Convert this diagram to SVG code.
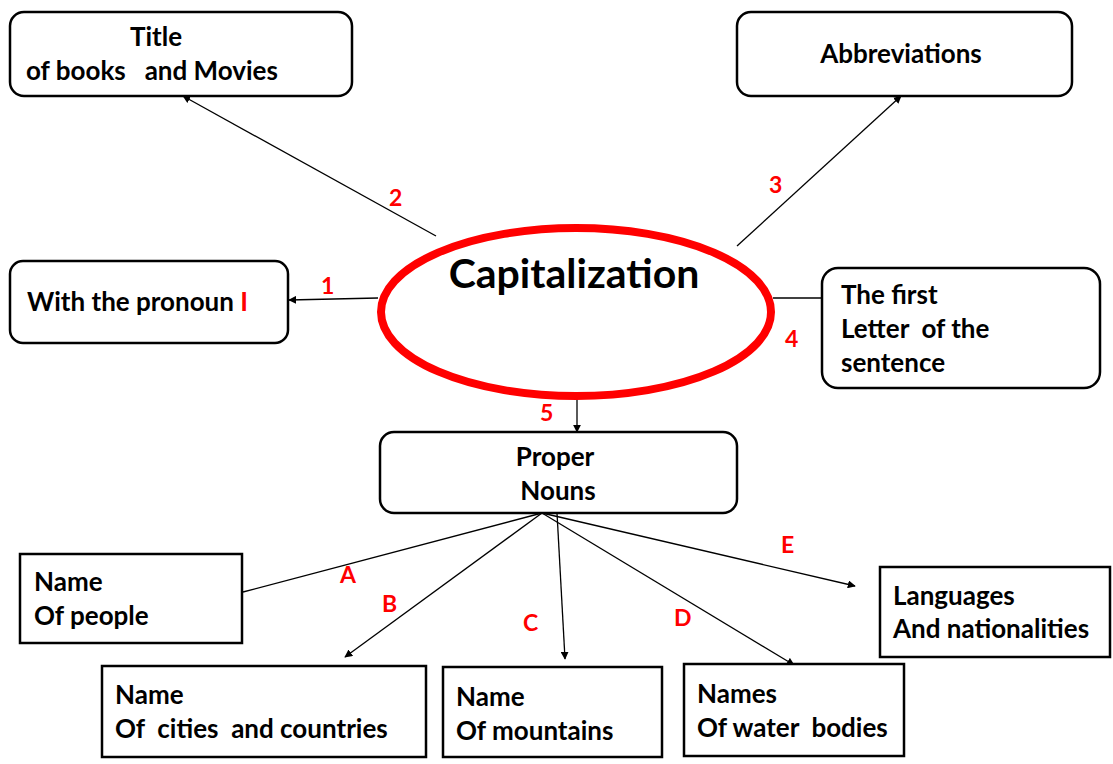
<svg xmlns="http://www.w3.org/2000/svg" width="1113" height="764" viewBox="0 0 1113 764">
  <style>
    .box { fill: #fff; stroke: #000; stroke-width: 2.5; }
    .t { font-family: Lato, "Open Sans", sans-serif; font-weight: bold; font-size: 26px; fill: #000; }
    .lbl { font-family: Lato, "Open Sans", sans-serif; font-weight: bold; font-size: 23px; fill: #ff0000; }
    .con { stroke: #000; stroke-width: 1.3; fill: none; }
  </style>
  <defs>
    <marker id="arr" viewBox="0 0 10 10" refX="9" refY="5" markerWidth="8" markerHeight="8" markerUnits="userSpaceOnUse" orient="auto">
      <path d="M0,0 L10,5 L0,10 z" fill="#000"/>
    </marker>
  </defs>
  <rect width="1113" height="764" fill="#fff"/>

  <g id="connectors">
    <line class="con" x1="436" y1="236" x2="183" y2="96" marker-end="url(#arr)"/>
    <line class="con" x1="737" y1="246" x2="901" y2="96" marker-end="url(#arr)"/>
    <line class="con" x1="378" y1="298" x2="289" y2="300" marker-end="url(#arr)"/>
    <line class="con" x1="773" y1="298" x2="822" y2="298"/>
    <line class="con" x1="577" y1="392" x2="577" y2="432" marker-end="url(#arr)"/>
    <line class="con" x1="542" y1="513" x2="243" y2="592"/>
    <line class="con" x1="542" y1="513" x2="345" y2="657" marker-end="url(#arr)"/>
    <line class="con" x1="557" y1="513" x2="565" y2="659" marker-end="url(#arr)"/>
    <line class="con" x1="542" y1="513" x2="794" y2="665" marker-end="url(#arr)"/>
    <line class="con" x1="542" y1="513" x2="855" y2="586" marker-end="url(#arr)"/>
    <text class="lbl" x="389" y="206">2</text>
    <text class="lbl" x="769" y="193">3</text>
    <text class="lbl" x="321" y="294">1</text>
    <text class="lbl" x="785" y="347">4</text>
    <text class="lbl" x="540" y="421">5</text>
    <text class="lbl" x="340" y="583">A</text>
    <text class="lbl" x="382" y="612">B</text>
    <text class="lbl" x="523" y="631">C</text>
    <text class="lbl" x="674" y="626">D</text>
    <text class="lbl" x="781" y="553">E</text>
  </g>

  <g id="capitalization">
    <ellipse cx="576" cy="312" rx="195" ry="84" fill="#fff" stroke="#ff0000" stroke-width="8"/>
    <text x="574" y="288" text-anchor="middle" style="font-family: Lato, 'Open Sans', sans-serif; font-weight: bold; font-size: 41px; fill: #000;">Capitalization</text>
  </g>

  <g id="title-books">
    <rect class="box" x="10" y="12" width="342" height="84" rx="14"/>
    <text class="t" x="130" y="46">Title</text>
    <text class="t" x="26" y="80" xml:space="preserve">of books   and Movies</text>
  </g>

  <g id="abbreviations">
    <rect class="box" x="737" y="12" width="335" height="84" rx="14"/>
    <text class="t" x="901" y="63" text-anchor="middle">Abbreviations</text>
  </g>

  <g id="pronoun-i">
    <rect class="box" x="10" y="261" width="278" height="82" rx="13"/>
    <text class="t" x="27" y="311">With the pronoun <tspan fill="#ff0000">I</tspan></text>
  </g>

  <g id="first-letter">
    <rect class="box" x="822" y="268" width="278" height="120" rx="16"/>
    <text class="t" x="841" y="304">The first</text>
    <text class="t" x="841" y="338" xml:space="preserve">Letter  of the</text>
    <text class="t" x="841" y="372">sentence</text>
  </g>

  <g id="proper-nouns">
    <rect class="box" x="380" y="432" width="357" height="81" rx="14"/>
    <text class="t" x="555" y="466" text-anchor="middle">Proper</text>
    <text class="t" x="558" y="500" text-anchor="middle">Nouns</text>
  </g>

  <g id="people">
    <rect class="box" x="20" y="554" width="222" height="89"/>
    <text class="t" x="34" y="591">Name</text>
    <text class="t" x="34" y="625">Of people</text>
  </g>

  <g id="cities">
    <rect class="box" x="102" y="666" width="324" height="91"/>
    <text class="t" x="115" y="704">Name</text>
    <text class="t" x="115" y="738" xml:space="preserve">Of  cities  and countries</text>
  </g>

  <g id="mountains">
    <rect class="box" x="443" y="667" width="219" height="90"/>
    <text class="t" x="456" y="706">Name</text>
    <text class="t" x="456" y="740">Of mountains</text>
  </g>

  <g id="water">
    <rect class="box" x="684" y="664" width="220" height="92"/>
    <text class="t" x="697" y="703">Names</text>
    <text class="t" x="697" y="737" xml:space="preserve">Of water  bodies</text>
  </g>

  <g id="languages">
    <rect class="box" x="880" y="567" width="230" height="90"/>
    <text class="t" x="893" y="605">Languages</text>
    <text class="t" x="893" y="638">And nationalities</text>
  </g>
</svg>
